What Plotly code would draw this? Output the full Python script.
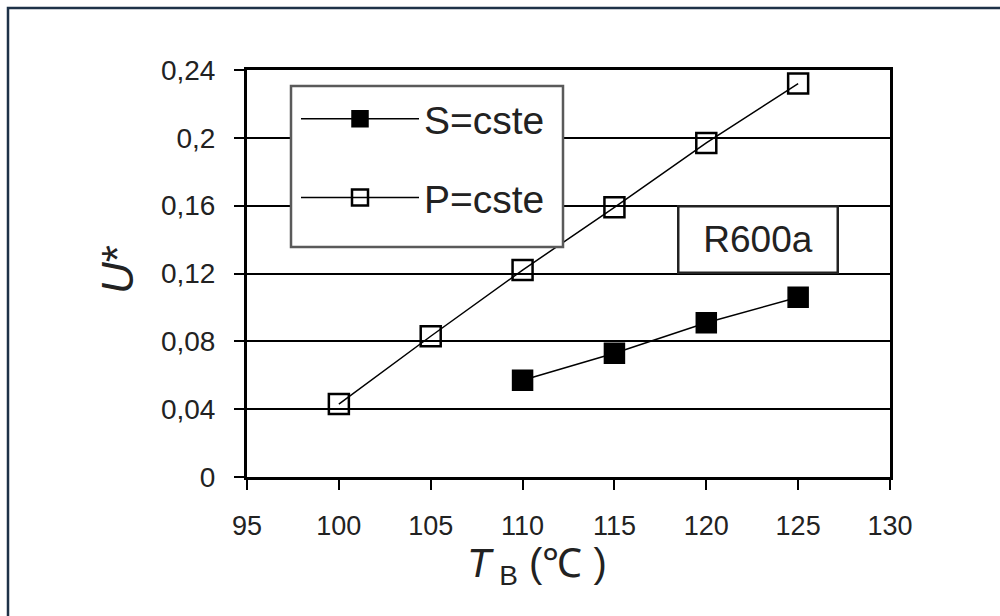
import plotly.graph_objects as go

# ---- data ----
t_p = [100, 105, 110, 115, 120, 125]
u_p = [0.043, 0.083, 0.122, 0.159, 0.197, 0.232]
t_s = [110, 115, 120, 125]
u_s = [0.057, 0.073, 0.091, 0.106]

x_ticks = [95, 100, 105, 110, 115, 120, 125, 130]
x_ticktext = ["95", "100", "105", "110", "115", "120", "125", "130"]
y_ticks = [0, 0.04, 0.08, 0.12, 0.16, 0.2, 0.24]
y_ticktext = ["0", "0,04", "0,08", "0,12", "0,16", "0,2", "0,24"]

FONT = "Liberation Sans, Arial, sans-serif"

# plot area in pixels (for paper-coordinate placement of decorations)
L, R, T, B = 247, 890, 70, 477
W, H = R - L, B - T


def px(x):
    return (x - L) / W


def py(y):
    return (B - y) / H


fig = go.Figure()
fig.add_trace(go.Scatter(
    x=t_s, y=u_s, name="S=cste", mode="lines+markers", legendgroup="s",
    line=dict(color="black", width=1.5),
    marker=dict(symbol="square", size=20, color="black",
                line=dict(color="black", width=1.5)),
))
fig.add_trace(go.Scatter(
    x=t_p, y=u_p, name="P=cste", mode="lines+markers", legendgroup="p",
    line=dict(color="black", width=1.5),
    marker=dict(symbol="square-open", size=20, color="black",
                line=dict(color="black", width=2.5)),
))

fig.update_layout(
    width=1000, height=616,
    margin=dict(l=L, r=1000 - R, t=T, b=616 - B),
    paper_bgcolor="white", plot_bgcolor="white",
    font=dict(family=FONT, color="#222222"),
    showlegend=True,
    legend=dict(
        x=px(296), y=py(87), xanchor="left", yanchor="top",
        bgcolor="rgba(0,0,0,0)", borderwidth=0,
        font=dict(family=FONT, size=39, color="#222222"),
        traceorder="grouped", tracegroupgap=25, itemwidth=118,
    ),
    xaxis=dict(
        range=[95, 130], tickvals=x_ticks, ticktext=x_ticktext,
        showgrid=False, zeroline=False,
        showline=True, linecolor="black", linewidth=3, mirror=True,
        ticks="outside", ticklen=10, tickwidth=2, tickcolor="black",
        tickfont=dict(family=FONT, size=27, color="#222222"),
        ticklabelstandoff=13,
    ),
    yaxis=dict(
        range=[0, 0.24], tickvals=y_ticks, ticktext=y_ticktext,
        showgrid=True, gridcolor="black", gridwidth=1.5, zeroline=False,
        showline=True, linecolor="black", linewidth=3, mirror=True,
        ticks="outside", ticklen=10, tickwidth=2, tickcolor="black",
        tickfont=dict(family=FONT, size=28, color="#222222"),
        ticklabelstandoff=13,
    ),
    shapes=[
        # outer frame
        dict(type="rect", xref="paper", yref="paper",
             x0=px(8), x1=px(1020), y0=py(640), y1=py(8),
             line=dict(color="#1e3248", width=2.5),
             fillcolor="rgba(0,0,0,0)", layer="below"),
        # legend box
        dict(type="rect", xref="paper", yref="paper",
             x0=px(291), x1=px(563), y0=py(247), y1=py(86),
             line=dict(color="#5a5a5a", width=2.5),
             fillcolor="white", layer="above"),
    ],
    annotations=[
        dict(text="R600a", xref="paper", yref="y", x=px(758), y=0.14,
             xanchor="center", yanchor="middle",
             showarrow=False, font=dict(family=FONT, size=37, color="#222222"),
             bgcolor="white", bordercolor="#222222", borderwidth=2.5,
             width=155, height=62, align="center", valign="middle"),
        dict(text="<i>T</i><sub> B</sub> (℃ )", xref="paper", yref="paper",
             x=px(537), y=py(566), xanchor="center", yanchor="middle",
             showarrow=False, font=dict(family=FONT, size=40, color="#222222")),
        dict(text="<i>U</i>*", xref="paper", yref="paper",
             x=px(117), y=py(270), xanchor="center", yanchor="middle",
             textangle=-90,
             showarrow=False, font=dict(family=FONT, size=44, color="#222222")),
    ],
)

fig.write_html("out.html")
